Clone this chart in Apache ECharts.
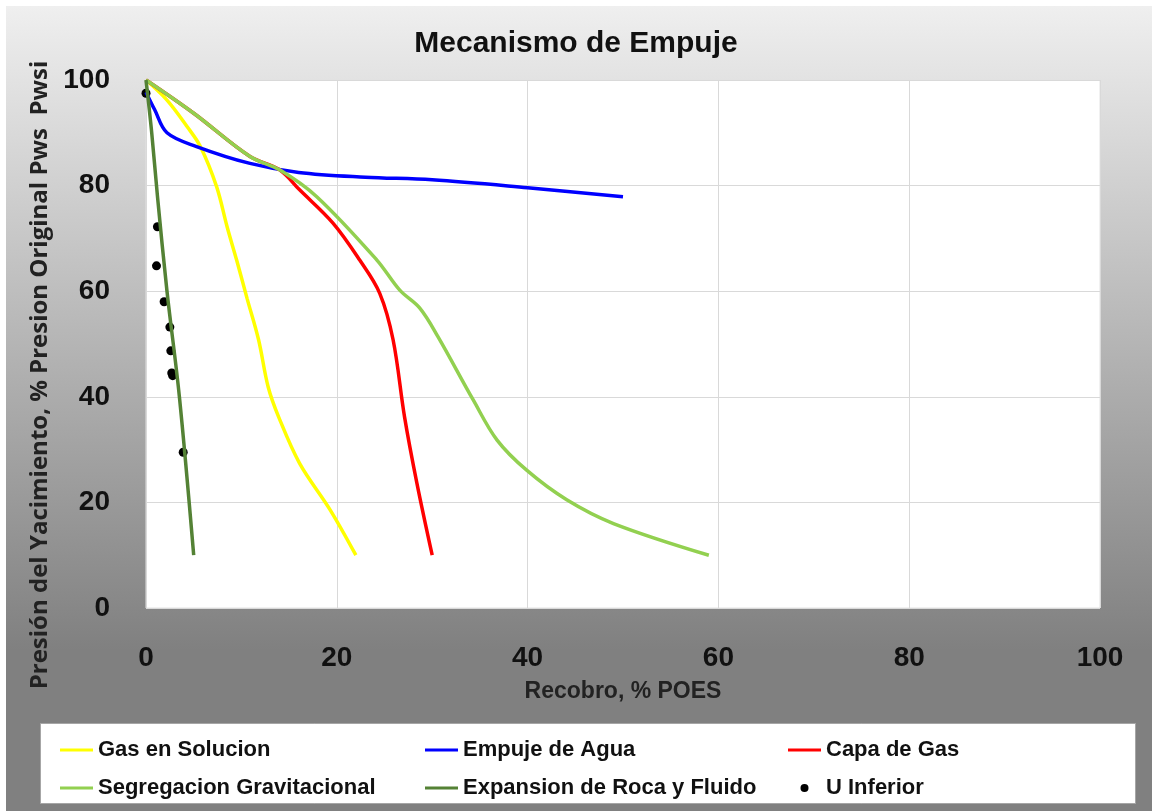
<!DOCTYPE html>
<html>
<head>
<meta charset="utf-8">
<script src="https://cdn.jsdelivr.net/npm/echarts@6/dist/echarts.min.js"></script>
<style>
  html, body { margin: 0; padding: 0; background: #ffffff; }
  #chart { width: 1152px; height: 811px; }
</style>
</head>
<body>
<div id="chart"></div>
<script>
// puntos [recobro %, presion %]
var gasSolucion = [[0,100],[2.2,96.2],[4.3,91.2],[5.7,87.4],[7.4,79.8],[8.5,72.2],[9.5,65.9],[10.6,58.6],[11.8,50.8],[12.8,41.9],[13.9,36.2],[16.1,27.4],[19.3,18.6],[22,10]];
var empujeAgua = [[0,97.7],[0.9,94.4],[2.2,90],[5.3,87.4],[10.9,84.2],[16,82.5],[23,81.6],[30,81.1],[40,79.6],[50,77.9]];
var capaGas = [[0,100],[5,93.7],[10.9,85.5],[14,83],[16.1,79.2],[19.6,72.9],[22.4,65.9],[24.5,59.6],[25.9,50.8],[27.1,36.2],[28.4,23.6],[30,10]];
var segregacion = [[0,100],[5,93.7],[10.9,85.5],[14,83],[17.9,77.9],[24.2,65.9],[26.6,60.2],[28.7,56.8],[30.6,51.4],[34.3,39.4],[36.8,31.8],[39.9,26.1],[44.1,20.5],[49,16],[59,10]];
var expansion = [[0,100],[0.6,90],[1.2,78],[2.2,60],[3.5,40],[5,10]];
var uInferior = [[0,97.5],[1.2,72.2],[1.1,64.8],[1.9,58],[2.5,53.2],[2.6,48.7],[2.7,44.5],[2.8,44],[3.9,29.5]];

var xTicks = [0, 20, 40, 60, 80, 100];
var yTicks = [0, 20, 40, 60, 80, 100];

var sans = "'Liberation Sans', Arial, sans-serif";
var lineIcon = 'path://M0 0h33v3H0z';

var myChart = echarts.init(document.getElementById('chart'));

function linea(name, color, data) {
    return {
        name: name,
        type: 'line',
        data: data,
        smooth: 0.35,
        symbol: 'none',
        lineStyle: { color: color, width: 3.5 },
        itemStyle: { color: color },
        emphasis: { disabled: true }
    };
}

var legendText = { fontFamily: sans, fontWeight: 'bold', fontSize: 22, color: '#111' };
function leyenda(left, items) {
    return {
        orient: 'vertical', left: left, top: 734, itemGap: 16,
        itemWidth: 33, itemHeight: 8, textStyle: legendText,
        data: items
    };
}

var option = {
    animation: false,
    backgroundColor: '#ffffff',
    graphic: [
        {
            type: 'rect', z: -10, silent: true,
            shape: { x: 6, y: 6, width: 1146, height: 805 },
            style: {
                fill: new echarts.graphic.LinearGradient(0, 0, 0, 1, [
                    { offset: 0, color: '#efefef' },
                    { offset: 0.8, color: '#808080' },
                    { offset: 1, color: '#808080' }
                ])
            }
        },
        {
            type: 'rect', z: -5, silent: true,
            shape: { x: 40.5, y: 723.5, width: 1095, height: 80 },
            style: { fill: '#ffffff', stroke: '#a6a6a6', lineWidth: 1 }
        }
    ],
    title: {
        text: 'Mecanismo de Empuje',
        left: 'center',
        top: 24,
        textStyle: { fontFamily: sans, fontWeight: 'bold', fontSize: 30, color: '#111' }
    },
    legend: [
        leyenda(55, [{ name: 'Gas en Solucion', icon: lineIcon }, { name: 'Segregacion Gravitacional', icon: lineIcon }]),
        leyenda(420, [{ name: 'Empuje de Agua', icon: lineIcon }, { name: 'Expansion de Roca y Fluido', icon: lineIcon }]),
        leyenda(783, [{ name: 'Capa de Gas', icon: lineIcon }, { name: 'U Inferior', icon: 'circle' }])
    ],
    grid: {
        left: 146, top: 80, right: 52, bottom: 203,
        show: true, backgroundColor: '#ffffff', borderColor: '#e3e3e3', borderWidth: 1
    },
    xAxis: {
        type: 'value',
        min: xTicks[0], max: xTicks[xTicks.length - 1], interval: 20,
        name: 'Recobro, % POES',
        nameLocation: 'middle',
        nameGap: 72,
        nameTextStyle: { fontFamily: sans, fontWeight: 'bold', fontSize: 23, color: '#222' },
        axisLine: { show: false },
        axisTick: { show: false },
        axisLabel: { margin: 36, fontFamily: sans, fontWeight: 'bold', fontSize: 28, color: '#111' },
        splitLine: { show: true, lineStyle: { color: '#d9d9d9', width: 1 } }
    },
    yAxis: {
        type: 'value',
        min: yTicks[0], max: yTicks[yTicks.length - 1], interval: 20,
        name: 'Presión del Yacimiento, % Presion Original Pws  Pwsi',
        nameLocation: 'middle',
        nameGap: 67,
        nameTextStyle: {
            fontFamily: "'Open Sans', sans-serif", fontWeight: 'bold', fontSize: 24, color: '#222',
            padding: [0, 62, 0, 0]
        },
        axisLine: { show: false },
        axisTick: { show: false },
        axisLabel: { margin: 36, fontFamily: sans, fontWeight: 'bold', fontSize: 28, color: '#111' },
        splitLine: { show: true, lineStyle: { color: '#d9d9d9', width: 1 } }
    },
    series: [
        linea('Gas en Solucion', '#ffff00', gasSolucion),
        linea('Empuje de Agua', '#0000ff', empujeAgua),
        linea('Capa de Gas', '#ff0000', capaGas),
        linea('Segregacion Gravitacional', '#92d050', segregacion),
        linea('Expansion de Roca y Fluido', '#548235', expansion),
        {
            name: 'U Inferior',
            type: 'scatter',
            data: uInferior,
            symbol: 'circle',
            symbolSize: 9,
            itemStyle: { color: '#000000', opacity: 1 },
            emphasis: { disabled: true }
        }
    ]
};
myChart.setOption(option);
</script>
</body>
</html>
